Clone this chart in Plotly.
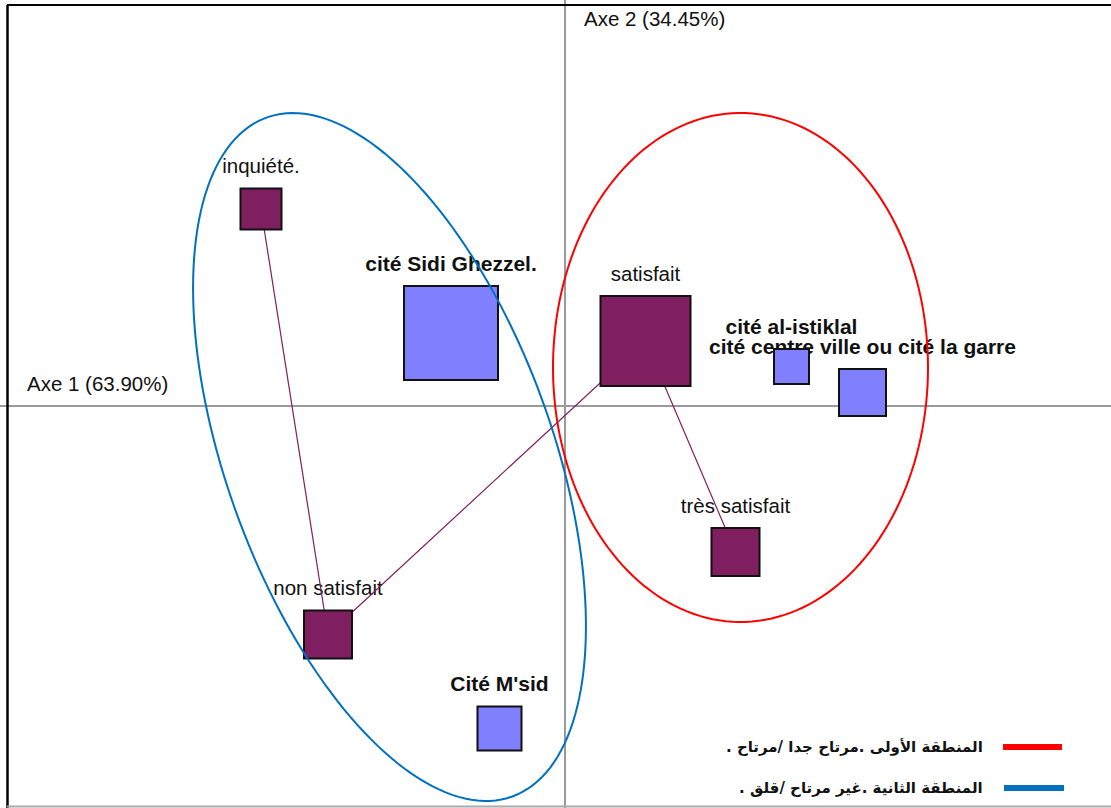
import numpy as np
import plotly.graph_objects as go

row_labels = ["inquiété.", "non satisfait", "satisfait", "très satisfait"]
row_x = [-1.216, -0.948, 0.322, 0.682]
row_y = [0.788, -0.914, 0.260, -0.584]
row_weight = [42, 49, 91, 49]

col_labels = ["cité Sidi Ghezzel.", "cité al-istiklal",
              "cité centre ville ou cité la garre", "Cité M'sid"]
col_x = [-0.456, 0.906, 1.190, -0.262]
col_y = [0.292, 0.158, 0.054, -1.290]
col_weight = [95, 36, 48, 45]

axis1_label = "Axe 1 (63.90%)"
axis2_label = "Axe 2 (34.45%)"
legend_labels = ["المنطقة الأولى .مرتاح جدا /مرتاح .",
                 "المنطقة الثانية .غير مرتاح /قلق ."]

ROW_COLOR = "#7F1F5F"
COL_COLOR = "#8080FF"
FONT = "Liberation Sans, Arial, sans-serif"

W, H = 1111, 808
X_RANGE = [-2.26, 2.184]
Y_RANGE = [-1.608, 1.624]
PX_PER_UNIT = H / (Y_RANGE[1] - Y_RANGE[0])
LABEL_GAP = 20  # px between square top and label centre


def ellipse_path(cx, cy, a, b, ang_deg, n=180):
    t = np.linspace(0, 2 * np.pi, n)
    th = np.deg2rad(ang_deg)
    xs = cx + a * np.cos(t) * np.cos(th) - b * np.sin(t) * np.sin(th)
    ys = cy + a * np.cos(t) * np.sin(th) + b * np.sin(t) * np.cos(th)
    return "M " + " L ".join(f"{x:.4f},{y:.4f}" for x, y in zip(xs, ys)) + " Z"


def label_y(ys, sizes):
    return [y + (s / 2 + LABEL_GAP) / PX_PER_UNIT for y, s in zip(ys, sizes)]


fig = go.Figure()

# label layers (beneath the squares)
fig.add_trace(go.Scatter(
    x=row_x, y=label_y(row_y, row_weight), mode="text", text=row_labels,
    textposition="middle center",
    textfont=dict(family=FONT, size=20.5, color="#111"),
    hoverinfo="skip", showlegend=False))
fig.add_trace(go.Scatter(
    x=col_x, y=label_y(col_y, col_weight), mode="text",
    text=[f"<b>{t}</b>" for t in col_labels],
    textposition="middle center",
    textfont=dict(family=FONT, size=21, color="#111"),
    hoverinfo="skip", showlegend=False))

# trajectory connecting the row modalities
fig.add_trace(go.Scatter(
    x=row_x, y=row_y, mode="lines",
    line=dict(color=ROW_COLOR, width=1.2),
    hoverinfo="skip", showlegend=False))

fig.add_trace(go.Scatter(
    x=row_x, y=row_y, mode="markers",
    marker=dict(symbol="square", size=[s - 1 for s in row_weight],
                color=ROW_COLOR, opacity=1,
                line=dict(color="#111", width=2)),
    text=row_labels, hoverinfo="text", showlegend=False))
fig.add_trace(go.Scatter(
    x=col_x, y=col_y, mode="markers",
    marker=dict(symbol="square", size=[s - 1 for s in col_weight],
                color=COL_COLOR, opacity=1,
                line=dict(color="#111", width=2)),
    text=col_labels, hoverinfo="text", showlegend=False))

shapes = [
    # ellipses grouping the zones
    dict(type="path", xref="x", yref="y", layer="above",
         path=ellipse_path(0.702, 0.154, 0.750, 1.018, 0),
         line=dict(color="#FF0000", width=2)),
    dict(type="path", xref="x", yref="y", layer="above",
         path=ellipse_path(-0.702, -0.204, 1.444, 0.652, -70.1),
         line=dict(color="#0070C0", width=2)),
    # frame
    dict(type="line", xref="paper", yref="paper", x0=7 / W, x1=1,
         y0=1 - 5 / H, y1=1 - 5 / H, line=dict(color="#000", width=2)),
    dict(type="line", xref="paper", yref="paper", x0=7.5 / W, x1=7.5 / W,
         y0=0, y1=1 - 5 / H, line=dict(color="#000", width=2.5)),
    dict(type="line", xref="paper", yref="paper", x0=7 / W, x1=1,
         y0=1.5 / H, y1=1.5 / H, line=dict(color="#aaa", width=2)),
    # legend swatches
    dict(type="line", xref="paper", yref="paper", x0=1003 / W, x1=1062 / W,
         y0=1 - 747 / H, y1=1 - 747 / H, line=dict(color="#FF0000", width=6)),
    dict(type="line", xref="paper", yref="paper", x0=1004 / W, x1=1064 / W,
         y0=1 - 788 / H, y1=1 - 788 / H, line=dict(color="#0070C0", width=6)),
]

annotations = [
    dict(x=25 / W, y=1 - 383 / H, xref="paper", yref="paper",
         text=axis1_label, showarrow=False, xanchor="left", yanchor="middle",
         font=dict(family=FONT, size=20.5, color="#111")),
    dict(x=582 / W, y=1 - 18 / H, xref="paper", yref="paper",
         text=axis2_label, showarrow=False, xanchor="left", yanchor="middle",
         font=dict(family=FONT, size=20.5, color="#111")),
]
for lab, py in zip(legend_labels, [747, 788]):
    annotations.append(dict(
        x=985 / W, y=1 - py / H, xref="paper", yref="paper",
        text="<b>\u200f" + lab + "\u200f</b>", showarrow=False,
        xanchor="right", yanchor="middle",
        font=dict(family="DejaVu Sans, sans-serif", size=15, color="#111")))

fig.update_layout(
    width=W, height=H, margin=dict(l=0, r=0, t=0, b=0, pad=0),
    paper_bgcolor="white", plot_bgcolor="white",
    xaxis=dict(range=X_RANGE, showgrid=False, showticklabels=False,
               ticks="", zeroline=True, zerolinecolor="#9a9a9a",
               zerolinewidth=2, fixedrange=True),
    yaxis=dict(range=Y_RANGE, showgrid=False, showticklabels=False,
               ticks="", zeroline=True, zerolinecolor="#9a9a9a",
               zerolinewidth=2, fixedrange=True),
    shapes=shapes, annotations=annotations, showlegend=False,
)

fig.write_html("out.html",
               config={"displayModeBar": False},
               post_script="document.body.style.margin='0';"
                           "document.body.style.overflow='hidden';")
